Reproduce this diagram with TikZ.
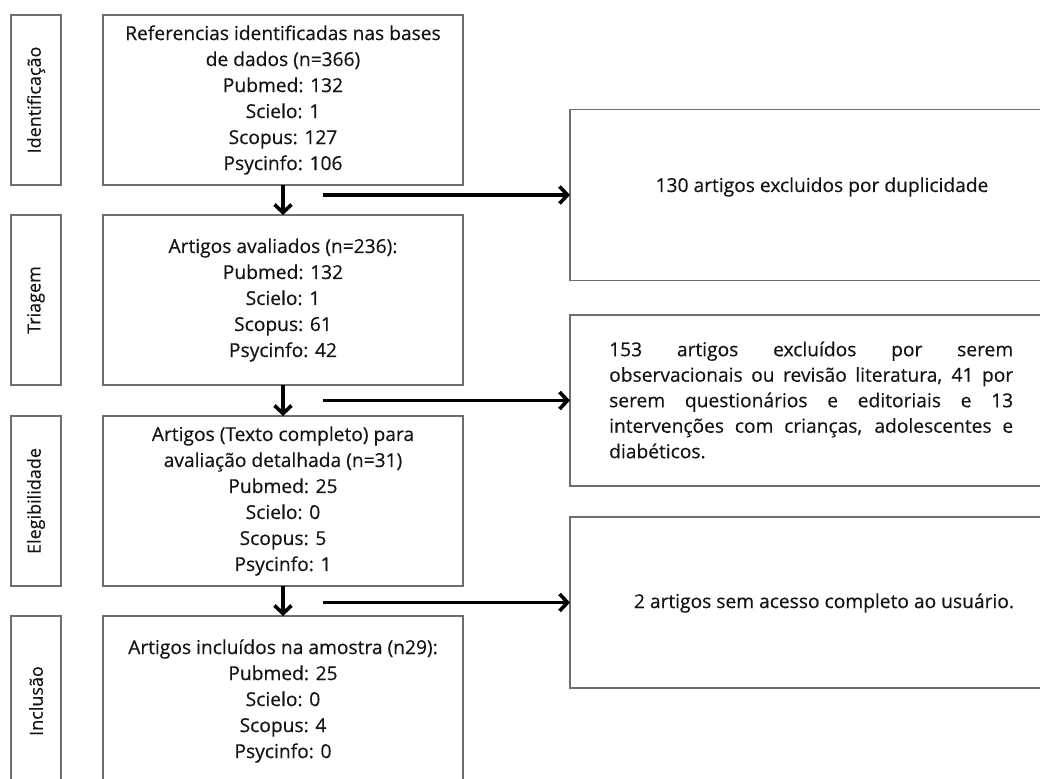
\documentclass[tikz,border=0pt]{standalone}
\usepackage{fontspec}
\setmainfont[FakeBold=0.35]{Open Sans}
\usetikzlibrary{arrows.meta}
\definecolor{boxgray}{HTML}{6E6E6E}
\definecolor{txt}{HTML}{141414}
\begin{document}
\begin{tikzpicture}[x=1pt,y=-1pt,
  box/.style={draw=boxgray,line width=1.5pt,inner sep=0pt,outer sep=0pt,text=txt},
  mainbox/.style={box,minimum width=360pt,minimum height=170pt,align=center,font=\fontsize{19.2}{26}\selectfont},
  phasebox/.style={box,minimum width=170pt,minimum height=50pt,rotate=90,font=\fontsize{18}{22}\selectfont},
  sidebox/.style={box,minimum width=506pt,minimum height=171pt},
  sidetext/.style={inner sep=0pt,text=txt,font=\fontsize{19.2}{25.5}\selectfont},
  arr/.style={line width=3.6pt,-{Straight Barb[length=8pt,width=17pt,line width=3.6pt]}}
]
\useasboundingbox (0,0) rectangle (1040,778);
\clip (0,0) rectangle (1040,778);
\fill[white] (0,0) rectangle (1040,778);

% phase labels
\node[phasebox] (p1) at (36,100) {Identificação};
\node[phasebox] (p2) at (36,300) {Triagem};
\node[phasebox] (p3) at (36,501) {Elegibilidade};
\node[phasebox] (p4) at (36,701) {Inclusão};

% main boxes
\node[mainbox] (b1) at (283,100) {Referencias identificadas nas bases\\de dados (n=366)\\Pubmed: 132\\Scielo: 1\\Scopus: 127\\Psycinfo: 106};
\node[mainbox] (b2) at (283,300) {Artigos avaliados (n=236):\\Pubmed: 132\\Scielo: 1\\Scopus: 61\\Psycinfo: 42};
\node[mainbox] (b3) at (283,501) {Artigos (Texto completo) para\\avaliação detalhada (n=31)\\Pubmed: 25\\Scielo: 0\\Scopus: 5\\Psycinfo: 1};
\node[mainbox] (b4) at (283,701) {Artigos incluídos na amostra (n29):\\Pubmed: 25\\Scielo: 0\\Scopus: 4\\Psycinfo: 0};

% side boxes
\node[sidebox] (r1) at (823,195) {};
\node[sidebox] (r2) at (823,400.5) {};
\node[sidebox] (r3) at (823,602.5) {};
\node[sidetext] (t1) at (822,187) {130 artigos excluidos por duplicidade};
\node[sidetext,text width=404pt,align=justify,anchor=west] (t2) at (609,400)
  {153 artigos excluídos por serem\linebreak observacionais ou revisão literatura, 41 por\linebreak serem questionários e editoriais e 13\linebreak intervenções com crianças, adolescentes e\linebreak diabéticos.};
\node[sidetext] (t3) at (824,603) {2 artigos sem acesso completo ao usuário.};

% connectors
\draw[arr] (b1.south) -- (b2.north);
\draw[arr] (b2.south) -- (b3.north);
\draw[arr] (b3.south) -- (b4.north);
\coordinate (h1) at (323,195);
\coordinate (h2) at (323,400.5);
\coordinate (h3) at (323,602.5);
\draw[arr] (h1) -- (r1.west);
\draw[arr] (h2) -- (r2.west);
\draw[arr] (h3) -- (r3.west);
\end{tikzpicture}
\end{document}
